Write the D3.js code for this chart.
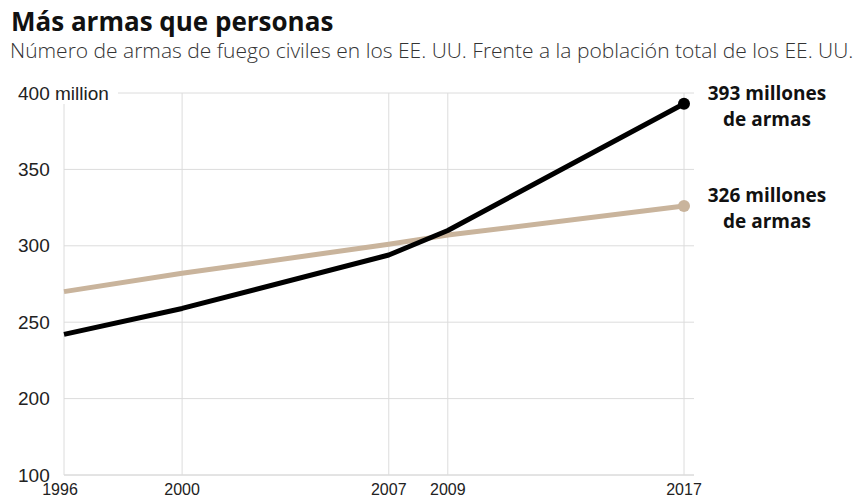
<!DOCTYPE html>
<html>
<head>
<meta charset="utf-8">
<script src="https://cdn.jsdelivr.net/npm/d3@7"></script>
<style>
  body { margin: 0; background: #fff; }
  svg { display: block; }
</style>
</head>
<body>
<svg id="chart" width="859" height="497"></svg>
<script>
const years = [1996, 2000, 2007, 2009, 2017];
const guns = [242, 259, 294, 310, 393];
const population = [270, 282, 301, 307, 326];
const yTicks = [150, 200, 250, 300, 350, 400];
const yTickLabels = ['100', '200', '250', '300', '350', '400 million'];
const title = 'Más armas que personas';
const subtitle = 'Número de armas de fuego civiles en los EE. UU. Frente a la población total de los EE. UU.';
const gunsLabel = ['393 millones', 'de armas'];
const popLabel = ['326 millones', 'de armas'];

const svg = d3.select('#chart');
const plot = { left: 64, right: 684, top: 93, bottom: 475 };

const x = d3.scaleLinear().domain([1996, 2017]).range([plot.left, plot.right]);
const y = d3.scaleLinear().domain([150, 400]).range([plot.bottom, plot.top]);

// titles
svg.append('text')
  .attr('x', 11).attr('y', 31)
  .attr('font-family', 'Open Sans')
  .attr('font-weight', 700)
  .attr('font-size', 26)
  .attr('fill', '#111')
  .text(title);

svg.append('text')
  .attr('x', 10).attr('y', 58)
  .attr('font-family', 'Open Sans')
  .attr('font-weight', 300)
  .attr('font-size', 21)
  .attr('fill', '#333')
  .text(subtitle);

// grid
const grid = svg.append('g');
grid.selectAll('line.h')
  .data(yTicks)
  .enter().append('line')
  .attr('class', 'h')
  .attr('x1', (d) => d === 400 ? 118 : plot.left)
  .attr('x2', plot.right + 10)
  .attr('y1', (d) => y(d)).attr('y2', (d) => y(d))
  .attr('stroke', (d) => d === 150 ? '#c8c8c8' : '#dcdcdc')
  .attr('stroke-width', 1);

grid.selectAll('line.v')
  .data(years)
  .enter().append('line')
  .attr('class', 'v')
  .attr('x1', (d) => x(d)).attr('x2', (d) => x(d))
  .attr('y1', (d) => d === 1996 ? plot.top + 11 : plot.top)
  .attr('y2', plot.bottom)
  .attr('stroke', '#dcdcdc')
  .attr('stroke-width', 1);

// axis labels
svg.append('g').selectAll('text')
  .data(yTicks)
  .enter().append('text')
  .attr('x', 18)
  .attr('y', (d) => y(d))
  .attr('dy', '0.35em')
  .attr('font-family', 'Liberation Sans')
  .attr('font-size', 19)
  .attr('fill', '#222')
  .text((d, i) => yTickLabels[i]);

svg.append('g').selectAll('text')
  .data(years)
  .enter().append('text')
  .attr('x', (d) => d === 1996 ? x(d) - 4 : x(d))
  .attr('y', 495)
  .attr('text-anchor', 'middle')
  .attr('font-family', 'Liberation Sans')
  .attr('font-size', 16)
  .attr('fill', '#222')
  .text((d) => d);

// lines
const line = d3.line()
  .x((d) => x(d[0]))
  .y((d) => y(d[1]));

const series = [
  { values: population, color: '#c9b49c', label: popLabel },
  { values: guns, color: '#000', label: gunsLabel },
];

series.forEach((s) => {
  const pts = years.map((yr, i) => [yr, s.values[i]]);
  svg.append('path')
    .datum(pts)
    .attr('d', line)
    .attr('fill', 'none')
    .attr('stroke', s.color)
    .attr('stroke-width', 5)
    .attr('stroke-linejoin', 'round');

  const last = pts[pts.length - 1];
  svg.append('circle')
    .attr('cx', x(last[0]))
    .attr('cy', y(last[1]))
    .attr('r', 6)
    .attr('fill', s.color);

  svg.append('text')
    .attr('x', 767)
    .attr('y', y(last[1]) - 4)
    .attr('text-anchor', 'middle')
    .attr('font-family', 'Open Sans')
    .attr('font-weight', 700)
    .attr('font-size', 19)
    .attr('fill', '#111')
    .selectAll('tspan')
    .data(s.label)
    .enter().append('tspan')
    .attr('x', 767)
    .attr('dy', (d, i) => i === 0 ? 0 : 26)
    .text((d) => d);
});
</script>
</body>
</html>
